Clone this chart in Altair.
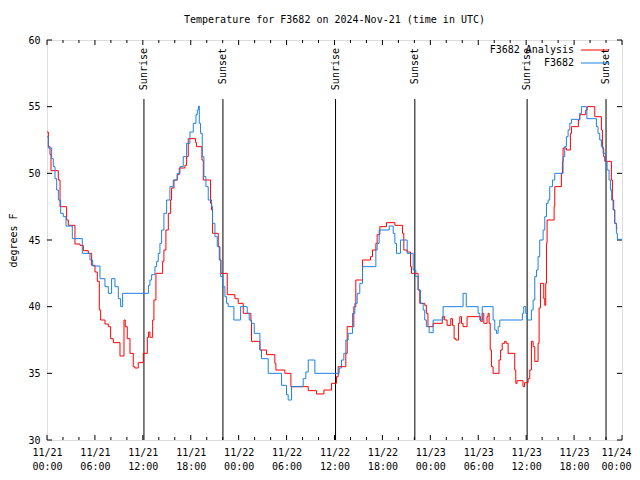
import json
import altair as alt
import pandas as pd

# ---------------- data (hours since 2024-11-21 00:00 UTC, degrees F) ----------------
obs_hours = [0.0, 0.17, 0.58, 0.79, 1.0, 1.21, 1.42, 1.71, 2.04, 2.38, 3.17, 4.42, 5.38, 5.72,
             6.63, 7.26, 7.68, 8.09, 8.51, 8.93, 9.22, 9.47, 12.7, 12.89, 13.1, 13.52, 13.73,
             13.93, 14.14, 14.35, 14.64, 14.98, 15.39, 15.81, 16.31, 16.65, 17.06, 17.48, 17.9,
             18.32, 18.65, 18.82, 18.98, 19.07, 19.23, 19.44, 19.65, 19.9, 20.19, 20.61, 20.73,
             21.03, 21.32, 21.57, 21.74, 21.99, 22.28, 22.49, 22.69, 23.4, 24.24, 25.07, 25.32,
             25.61, 25.95, 26.66, 26.86, 27.7, 29.37, 29.99, 30.2, 30.62, 32.08, 32.41, 32.71,
             33.54, 36.59, 36.88, 37.17, 37.42, 37.71, 38.26, 38.55, 38.84, 39.17, 39.51, 41.18,
             41.34, 41.59, 42.85, 43.35, 43.56, 43.76, 44.26, 45.1, 45.85, 46.18, 46.48, 46.77,
             47.1, 47.3, 47.5, 47.85, 48.35, 49.6, 52.1, 52.5, 53.98, 54.19, 54.5, 55.86, 56.07,
             56.28, 56.49, 56.7, 59.53, 59.7, 59.95, 60.1, 60.66, 60.87, 61.08, 61.29, 61.49,
             61.7, 62.12, 62.33, 62.54, 62.75, 62.95, 63.29, 63.58, 64.62, 64.83, 65.04, 65.25,
             65.46, 65.67, 66.71, 66.92, 67.6, 68.8, 69.0, 69.21, 69.42, 69.63, 69.96, 70.13,
             70.38, 70.55, 70.71, 70.88, 71.09, 71.3, 71.42, 72.0]
obs_temp = [52.75, 51.9, 51.1, 50.5, 49.6, 48.75, 48.0, 47.0, 46.75, 46.05, 45.1, 44.0, 43.5, 43.05,
            42.1, 41.5, 41.0, 42.1, 41.5, 40.6, 40.0, 41.0, 41.6, 42.0, 42.4, 43.0, 43.4,
            44.0, 44.75, 45.75, 47.0, 48.0, 49.0, 49.5, 50.0, 50.5, 51.25, 52.25, 53.1,
            53.75, 54.4, 54.75, 55.05, 53.75, 53.0, 51.25, 49.75, 49.0, 48.0, 47.5, 46.25,
            45.25, 44.5, 43.5, 42.25, 41.5, 40.75, 40.25, 40.0, 39.0, 40.0, 39.5, 39.0,
            38.75, 38.0, 36.75, 36.1, 35.0, 34.1, 33.4, 33.0, 34.0, 34.6, 35.1, 36.0,
            35.0, 35.4, 36.0, 36.5, 37.5, 38.0, 39.5, 40.25, 41.0, 41.75, 43.0, 44.25,
            44.75, 45.75, 46.05, 45.5, 44.75, 44.0, 45.0, 44.0, 42.75, 42.25, 41.25, 40.25,
            39.75, 39.0, 38.5, 38.05, 39.0, 40.0, 41.0, 40.0, 39.5, 39.0, 40.0, 39.0, 38.25,
            38.0, 38.5, 39.0, 39.5, 40.0, 39.5, 39.0, 39.75, 40.5, 42.25, 42.75, 43.75,
            45.0, 45.75, 46.75, 47.75, 48.0, 49.0, 49.5, 50.0, 51.25, 52.0, 52.75, 53.25,
            53.75, 54.05, 54.5, 55.0, 54.1, 53.5, 53.0, 52.5, 52.0, 51.5, 50.9, 50.25,
            49.5, 48.75, 48.0, 47.25, 46.25, 45.5, 45.05, 45.05]

ana_hours = [0.0, 0.17, 0.38, 0.5, 1.42, 1.63, 2.46, 2.67, 3.5, 4.13, 4.55, 5.17, 5.59, 6.01,
             6.3, 6.55, 6.72, 7.26, 7.68, 7.97, 8.3, 9.14, 9.64, 9.8, 10.05, 10.39, 10.8,
             11.01, 11.43, 12.06, 12.56, 12.72, 12.89, 13.23, 13.39, 13.64, 14.48, 14.64,
             14.89, 15.19, 15.48, 15.6, 15.9, 16.31, 16.56, 17.27, 17.48, 17.69, 18.61, 18.73,
             19.4, 19.57, 20.48, 20.61, 20.73, 21.44, 21.65, 21.78, 22.57, 23.53, 23.94, 24.57,
             25.53, 25.61, 26.66, 27.49, 28.53, 28.66, 29.79, 30.54, 32.71, 33.75, 34.67,
             35.63, 36.25, 36.46, 37.42, 37.59, 38.42, 38.67, 39.51, 40.51, 40.76, 41.18,
             41.34, 41.68, 42.51, 43.56, 44.51, 44.68, 45.1, 45.52, 45.64, 46.47, 46.68, 47.3,
             47.5, 47.7, 48.35, 49.5, 49.8, 50.1, 50.56, 50.77, 50.98, 51.19, 51.52, 51.69,
             51.9, 52.1, 52.6, 54.3, 54.5, 54.7, 55.1, 55.23, 55.36, 55.5, 55.65, 55.86, 56.6,
             56.8, 57.0, 57.3, 57.5, 57.74, 58.57, 58.7, 58.86, 59.6, 59.8, 60.24, 60.45,
             60.66, 60.87, 61.08, 61.49, 61.62, 61.79, 62.2, 62.33, 62.45, 62.54, 62.62, 63.5,
             63.58, 64.41, 64.54, 64.62, 65.04, 65.54, 65.67, 66.54, 66.71, 67.46, 67.63,
             68.59, 69.42, 69.55, 69.71, 69.84, 70.67, 70.8, 70.96, 71.09, 71.3, 71.45]
ana_temp = [53.1, 52.0, 51.4, 50.2, 49.5, 47.5, 46.5, 46.1, 44.7, 44.6, 44.2, 44.0, 43.1, 42.6,
            41.9, 39.75, 39.0, 38.7, 38.5, 37.6, 37.3, 36.3, 39.0, 38.5, 37.6, 36.5, 35.5,
            35.4, 35.8, 36.5, 37.7, 38.1, 37.7, 39.0, 40.5, 42.5, 43.4, 44.25,
            45.75, 47.0, 48.0, 48.9, 49.5, 49.9, 50.4, 50.6, 51.25, 52.6, 52.3, 52.0,
            51.0, 49.5, 47.75, 47.25, 45.5, 44.5, 43.5, 42.5, 40.9, 40.6, 40.25, 39.5,
            38.9, 37.4, 36.75, 36.4, 35.75, 35.25, 35.0, 34.0, 33.7, 33.45, 33.75,
            34.25, 34.75, 35.5, 36.5, 38.5, 40.0, 42.0, 43.5, 43.75, 44.25, 44.75,
            45.4, 46.0, 46.3, 46.1, 45.5, 44.25, 44.1, 43.0, 42.5, 41.25, 40.25, 40.1,
            39.5, 38.5, 38.75, 39.25, 39.0, 38.6, 39.1, 38.6, 37.6, 37.5, 38.75, 39.25,
            38.75, 38.5, 39.25, 38.9, 39.5, 38.75, 39.25, 39.5, 38.75, 36.75, 35.5, 35.0, 36.0,
            36.75, 37.25, 37.4, 37.25, 36.5, 35.25, 34.25, 34.45, 34.0, 34.3, 34.6, 35.25,
            37.4, 37.0, 35.9, 37.25, 39.9, 41.75, 40.6, 40.1, 41.75, 44.75, 46.5, 47.5,
            49.0, 50.0, 50.9, 51.9, 51.75, 53.0, 53.5, 54.0, 54.4, 54.75, 55.0,
            54.25, 53.25, 51.9, 51.25, 50.9, 49.5, 48.0, 47.25, 46.25, 45.9, 45.9]

series_names = ["F3682 Analysis", "F3682"]
series_colors = ["#ff0000", "#1c82e6"]

sun_hours = [12.14, 22.03, 36.13, 46.06, 60.12, 70.0]
sun_labels = ["Sunrise", "Sunset", "Sunrise", "Sunset", "Sunrise", "Sunset"]

x_label_hours = list(range(0, 73, 6))
x_label_dates = ["11/21", "11/21", "11/21", "11/21", "11/22", "11/22", "11/22", "11/22",
                 "11/23", "11/23", "11/23", "11/23", "11/24"]
x_label_times = ["00:00", "06:00", "12:00", "18:00", "00:00", "06:00", "12:00", "18:00",
                 "00:00", "06:00", "12:00", "18:00", "00:00"]
x_minor_hours = [h for h in range(0, 73, 2) if h % 6 != 0]
y_ticks = [30, 35, 40, 45, 50, 55, 60]

TITLE = "Temperature for F3682 on 2024-Nov-21 (time in UTC)"
FONT = "DejaVu Sans Mono"
FS = 10
W, H = 575, 400

# ---------------- frames ----------------
lines_df = pd.concat([
    pd.DataFrame({"t": ana_hours, "v": ana_temp, "s": series_names[0]}),
    pd.DataFrame({"t": obs_hours, "v": obs_temp, "s": series_names[1]}),
])
sun_df = pd.DataFrame({"t": sun_hours, "label": sun_labels})
major_df = pd.DataFrame({"t": x_label_hours})
minor_df = pd.DataFrame({"t": x_minor_hours})
ytick_df = pd.DataFrame({"v": y_ticks})
legend_df = pd.DataFrame({"s": series_names, "c": series_colors})

label_pairs = [[d, tm] for d, tm in zip(x_label_dates, x_label_times)]
label_expr = json.dumps(label_pairs) + "[round(datum.value / 6)]"

xscale = alt.Scale(domain=[0, 72], nice=False, zero=False)
yscale = alt.Scale(domain=[30, 60], nice=False, zero=False)

X = alt.X("t:Q", scale=xscale, axis=alt.Axis(
    values=x_label_hours, labelExpr=label_expr, tickSize=0, domain=False, grid=False,
    title=None, labelFont=FONT, labelFontSize=FS, labelColor="black", labelPadding=7,
    labelLineHeight=14, labelFlush=False, labelOverlap=False,
    labelOffset={"condition": {"test": "datum.value >= 72", "value": -6}, "value": 0}))
Y = alt.Y("v:Q", scale=yscale, axis=alt.Axis(
    values=y_ticks, tickSize=0, domain=False, grid=False, title="degrees F",
    titleFont=FONT, titleFontSize=FS, titleFontWeight="normal", titleColor="black",
    titlePadding=9, labelFont=FONT, labelFontSize=FS, labelColor="black", labelPadding=7,
    labelFlush=False, labelOverlap=False))

lines = alt.Chart(lines_df).mark_line(interpolate="step-after", strokeWidth=1).encode(
    x=X, y=Y,
    color=alt.Color("s:N", scale=alt.Scale(domain=series_names, range=series_colors), legend=None),
    detail="s:N",
)

sun_rules = alt.Chart(sun_df).mark_rule(color="black", strokeWidth=1).encode(
    x=X, y=alt.datum(30), y2=alt.datum(55.57))
sun_text = alt.Chart(sun_df).mark_text(
    angle=270, align="right", baseline="middle", font=FONT, fontSize=FS, color="black"
).encode(x=X, y=alt.value(8), text="label:N")

def xticks(df, length):
    bottom = alt.Chart(df).mark_rule(color="black", strokeWidth=1).encode(
        x=X, y=alt.value(H), y2=alt.value(H - length))
    top = alt.Chart(df).mark_rule(color="black", strokeWidth=1).encode(
        x=X, y=alt.value(0), y2=alt.value(length))
    return bottom + top

yt_left = alt.Chart(ytick_df).mark_rule(color="black", strokeWidth=1).encode(
    y=Y, x=alt.value(0), x2=alt.value(5))
yt_right = alt.Chart(ytick_df).mark_rule(color="black", strokeWidth=1).encode(
    y=Y, x=alt.value(W - 5), x2=alt.value(W))

leg_text = []
leg_lines = []
for i, (name, col) in enumerate(zip(series_names, series_colors)):
    sub = legend_df[legend_df.s == name]
    leg_text.append(alt.Chart(sub).mark_text(
        align="right", baseline="middle", font=FONT, fontSize=FS, color="black"
    ).encode(text="s:N", x=alt.value(527), y=alt.value(10 + 13 * i)))
    leg_lines.append(alt.Chart(sub).mark_rule(color=col, strokeWidth=1).encode(
        x=alt.value(534), x2=alt.value(562), y=alt.value(10 + 13 * i)))

chart = alt.layer(
    xticks(major_df, 5), xticks(minor_df, 3), yt_left, yt_right,
    sun_rules, sun_text, lines, *leg_text, *leg_lines,
).properties(
    width=W, height=H,
    title=alt.TitleParams(TITLE, font=FONT, fontSize=FS, fontWeight="normal", color="black",
                          anchor="middle", offset=10),
    autosize=alt.AutoSizeParams(type="none"),
    padding={"left": 39, "top": 32, "right": 10, "bottom": 32},
).configure_view(stroke="black", strokeWidth=1).configure(background="white")

chart.save("out.html", embed_options={"renderer": "svg", "actions": False})
